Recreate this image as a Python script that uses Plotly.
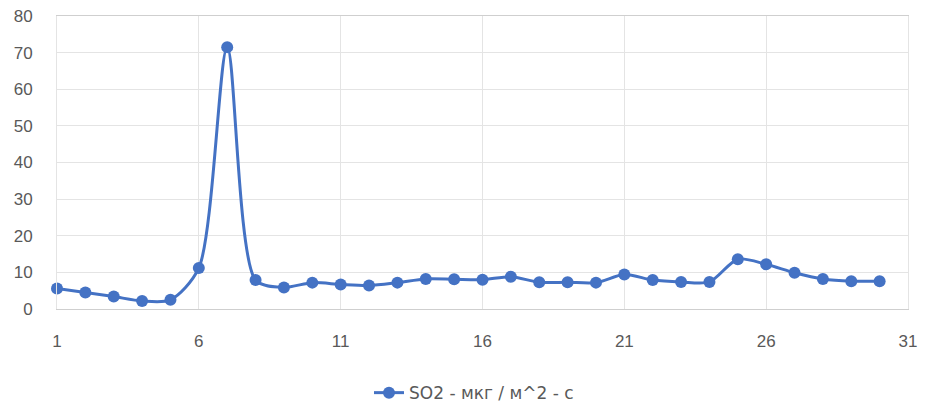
import plotly.graph_objects as go

days = list(range(1, 31))
so2 = [5.6, 4.5, 3.4, 2.2, 2.5, 11.2, 71.5, 7.9, 5.9, 7.2,
       6.7, 6.4, 7.2, 8.2, 8.1, 8.0, 8.8, 7.3, 7.3, 7.2,
       9.4, 7.9, 7.4, 7.4, 13.6, 12.2, 9.9, 8.2, 7.6, 7.6]
series_name = "SO2 - мкг / м^2 - с"
x_ticks = [1, 6, 11, 16, 21, 26, 31]
y_ticks = [0, 10, 20, 30, 40, 50, 60, 70, 80]

fig = go.Figure()
fig.add_trace(go.Scatter(
    x=days, y=so2, mode="lines+markers", name=series_name, cliponaxis=False,
    line=dict(color="#4472C4", width=3, shape="spline", smoothing=0.8),
    marker=dict(color="#4472C4", size=12),
))

font_color = "#595959"
fig.update_layout(
    width=919, height=401,
    margin=dict(l=49, r=19, t=8, b=100, autoexpand=False),
    paper_bgcolor="white", plot_bgcolor="white",
    font=dict(family="Liberation Sans, Arial, sans-serif", size=17, color=font_color),
    showlegend=True,
    legend=dict(orientation="h", x=0.49, xanchor="center", y=-0.287, yanchor="middle",
                font=dict(family="DejaVu Sans, sans-serif", size=17, color=font_color)),
    xaxis=dict(range=[1, 31], tickvals=x_ticks, showgrid=True, gridcolor="#E4E4E4",
               zeroline=False, showline=True, mirror=True, linecolor="#CFCFCF", linewidth=1,
               ticks="", ticklabelstandoff=17, ticklabeloverflow="allow"),
    yaxis=dict(range=[0, 80], tickvals=y_ticks, showgrid=True, gridcolor="#E4E4E4",
               zeroline=False, showline=True, mirror=True, linecolor="#E4E4E4",
               ticks="", ticklabelstandoff=20, ticklabeloverflow="allow"),
)

fig.write_html("out.html")
